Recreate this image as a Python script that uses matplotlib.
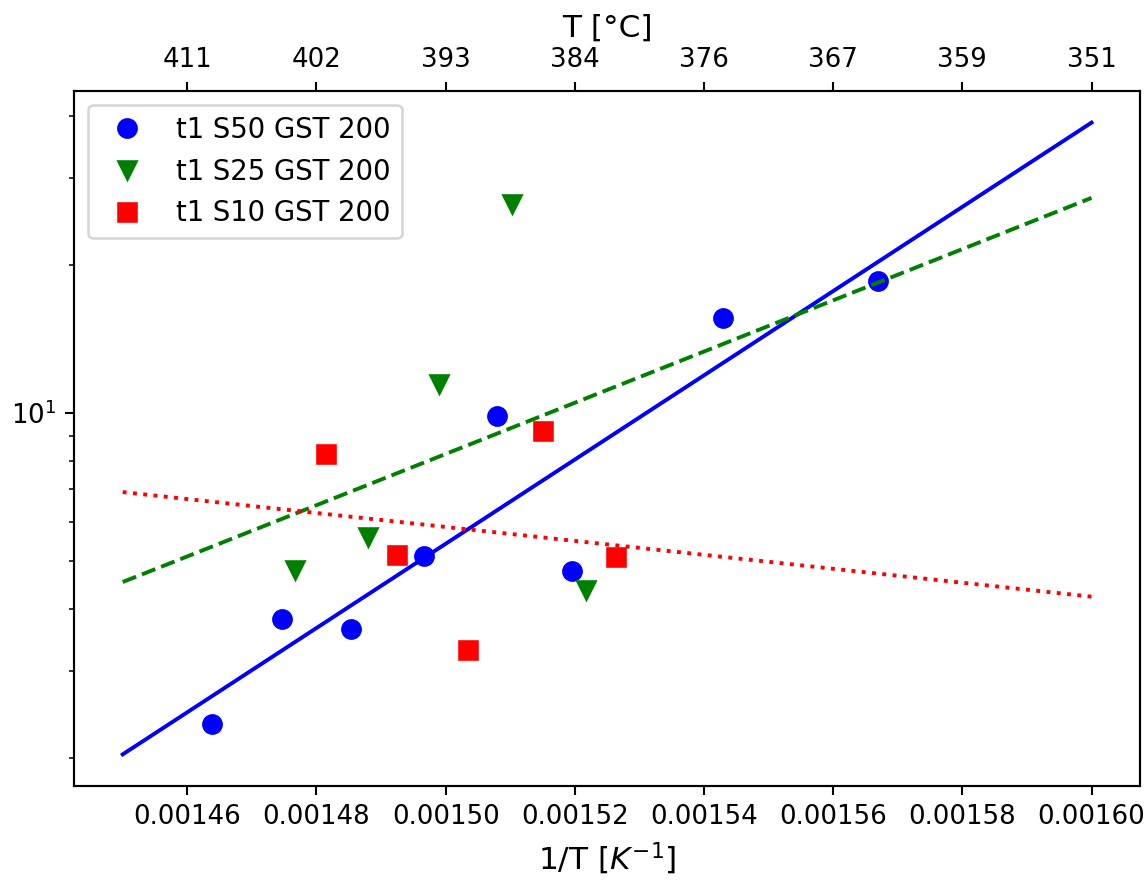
import matplotlib
matplotlib.use("Agg")
import matplotlib.pyplot as plt
import numpy as np

# measured points, x = 1/T [1/K]
s50_x = [0.0014639, 0.0014747, 0.0014854, 0.0014967, 0.0015080, 0.0015195, 0.0015429, 0.0015669]
s50_y = [2.34, 3.82, 3.65, 5.13, 9.85, 4.78, 15.55, 18.56]

s25_x = [0.0014767, 0.0014880, 0.0014989, 0.0015102, 0.0015218]
s25_y = [4.80, 5.60, 11.43, 26.58, 4.38]

s10_x = [0.0014814, 0.0014924, 0.0015035, 0.0015150, 0.0015264]
s10_y = [8.25, 5.15, 3.31, 9.18, 5.10]

# fit lines (end points)
fit_x = [0.00145, 0.00160]
fit_s50 = [2.03, 38.8]
fit_s25 = [4.54, 27.3]
fit_s10 = [6.91, 4.24]

DPI = 187
fig = plt.figure(figsize=(1148 / DPI, 889 / DPI), dpi=DPI)
ax = fig.add_axes([0.0647, 0.1159, 0.9283, 0.7817])

ax.plot(s50_x, s50_y, 'o', color='blue', ms=7, label='t1 S50 GST 200')
ax.plot(s25_x, s25_y, 'v', color='green', ms=7, label='t1 S25 GST 200')
ax.plot(s10_x, s10_y, 's', color='red', ms=7, label='t1 S10 GST 200')

ax.plot(fit_x, fit_s50, '-', color='blue')
ax.plot(fit_x, fit_s25, '--', color='green')
ax.plot(fit_x, fit_s10, ':', color='red')

ax.set_yscale('log')
ax.set_xlabel('1/T [$K^{-1}$]', fontsize=12)
ax.legend(loc='upper left', fontsize=10.6)

ticks = [t for t in ax.get_xticks() if ax.get_xlim()[0] <= t <= ax.get_xlim()[1]]
ax.set_xticks(ticks)
ax.set_xticklabels(['%.5f' % t for t in ticks])

top = ax.twiny()
top.set_xlim(ax.get_xlim())
top.set_xticks(ticks)
top.set_xticklabels([str(int(1 / t - 273.15)) for t in ticks])
top.set_xlabel('T [°C]', fontsize=12)

fig.savefig('out.png', dpi=DPI)
